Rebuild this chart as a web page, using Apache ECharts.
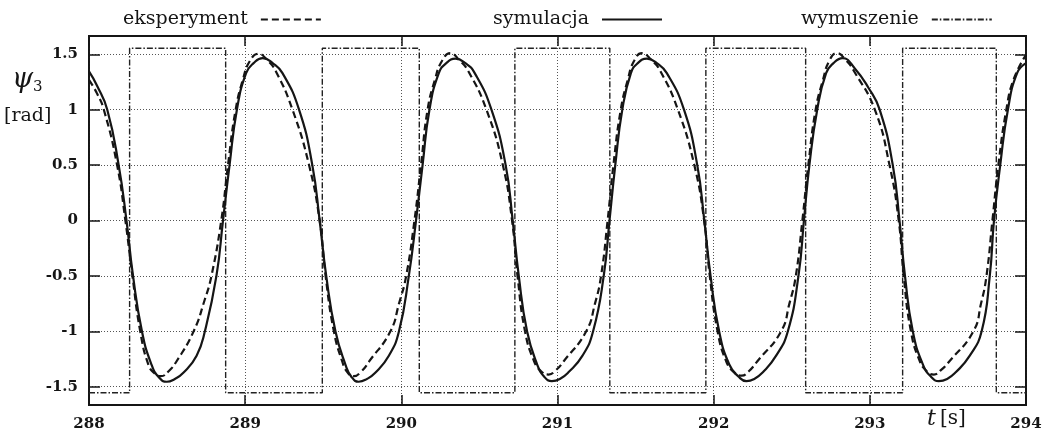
<!DOCTYPE html>
<html>
<head>
<meta charset="utf-8">
<script src="https://cdn.jsdelivr.net/npm/echarts@6/dist/echarts.min.js"></script>
<style>
html,body{margin:0;padding:0;background:#fff;}
#c{width:1059px;height:438px;}
</style>
</head>
<body>
<div id="c"></div>
<script>
// ---- data ----
const seriesNames = ['eksperyment', 'symulacja', 'wymuszenie'];

const simT = [288.000,288.050,288.117,288.190,288.240,288.282,288.339,288.400,288.450,288.498,288.550,288.604,288.689,288.742,288.816,288.858,288.900,288.947,289.006,289.054,289.112,289.176,289.239,289.345,289.430,289.477,289.519,289.578,289.642,289.680,289.727,289.780,289.833,289.920,289.985,290.048,290.094,290.136,290.180,290.240,290.288,290.346,290.410,290.470,290.577,290.668,290.713,290.752,290.805,290.870,290.915,290.964,291.015,291.070,291.160,291.228,291.296,291.333,291.370,291.415,291.470,291.514,291.572,291.636,291.700,291.810,291.895,291.940,291.980,292.035,292.100,292.160,292.210,292.260,292.315,292.400,292.475,292.543,292.578,292.613,292.663,292.720,292.767,292.825,292.905,292.990,293.063,293.147,293.190,293.225,293.275,293.340,293.392,293.442,293.495,293.550,293.640,293.716,293.768,293.795,293.835,293.884,293.943,294.000];
const simV = [1.345,1.22,1.0,0.5,0,-0.5,-1.0,-1.3,-1.42,-1.455,-1.43,-1.375,-1.22,-1.0,-0.5,0,0.5,1.0,1.33,1.42,1.465,1.42,1.33,1.0,0.5,0,-0.5,-1.0,-1.3,-1.41,-1.455,-1.43,-1.375,-1.22,-1.0,-0.5,0,0.5,1.0,1.33,1.42,1.46,1.42,1.33,1.0,0.5,0,-0.5,-1.0,-1.3,-1.41,-1.45,-1.43,-1.37,-1.22,-1.0,-0.5,0,0.5,1.0,1.33,1.42,1.46,1.42,1.33,1.0,0.5,0,-0.5,-1.0,-1.3,-1.41,-1.45,-1.43,-1.37,-1.22,-1.0,-0.5,0,0.5,1.0,1.33,1.42,1.465,1.37,1.2,1.0,0.5,0,-0.5,-1.0,-1.3,-1.41,-1.45,-1.43,-1.37,-1.22,-1.0,-0.5,0,0.5,1.0,1.33,1.42];

const expT = [288.000,288.050,288.095,288.180,288.233,288.278,288.328,288.380,288.420,288.460,288.510,288.561,288.670,288.740,288.784,288.847,288.890,288.939,288.985,289.030,289.085,289.140,289.197,289.303,289.409,289.477,289.515,289.568,289.621,289.655,289.695,289.745,289.795,289.930,289.985,290.031,290.084,290.126,290.168,290.215,290.260,290.314,290.370,290.430,290.545,290.650,290.709,290.744,290.792,290.850,290.895,290.943,290.990,291.040,291.184,291.240,291.279,291.321,291.358,291.405,291.450,291.490,291.541,291.600,291.660,291.771,291.876,291.939,291.975,292.025,292.080,292.130,292.179,292.225,292.280,292.432,292.485,292.526,292.568,292.606,292.653,292.700,292.740,292.789,292.845,292.900,293.032,293.126,293.185,293.217,293.263,293.320,293.365,293.410,293.455,293.510,293.663,293.712,293.747,293.785,293.823,293.874,293.920,294.000];
const expV = [1.27,1.15,1.0,0.5,0,-0.5,-1.0,-1.3,-1.38,-1.405,-1.36,-1.27,-1.0,-0.72,-0.5,0,0.5,1.0,1.27,1.44,1.505,1.45,1.345,1.0,0.5,0,-0.5,-1.0,-1.27,-1.37,-1.405,-1.36,-1.27,-1.0,-0.75,-0.5,0,0.5,1.0,1.27,1.44,1.51,1.45,1.345,1.0,0.5,0,-0.5,-1.0,-1.27,-1.36,-1.39,-1.35,-1.27,-1.0,-0.75,-0.5,0,0.5,1.0,1.27,1.44,1.51,1.45,1.345,1.0,0.5,0,-0.5,-1.0,-1.27,-1.37,-1.40,-1.36,-1.27,-1.0,-0.75,-0.5,0,0.5,1.0,1.27,1.44,1.51,1.45,1.345,1.0,0.5,0,-0.5,-1.0,-1.27,-1.36,-1.39,-1.35,-1.27,-1.0,-0.75,-0.5,0,0.5,1.0,1.27,1.495];

const forceT = [288, 288.26, 288.875, 289.494, 290.115, 290.727, 291.335, 291.95, 292.589, 293.21, 293.81, 294];
const forceV = [-1.555, 1.555, -1.555, 1.555, -1.555, 1.555, -1.555, 1.555, -1.555, 1.555, -1.555, -1.555];

const xMin = 288, xMax = 294, xStep = 1;
const yMin = -1.665, yMax = 1.665;

// ---- build ----
const zip = (a, b) => a.map((v, i) => [v, b[i]]);
const INK = '#151515';
const serif = 'DejaVu Serif';

const chart = echarts.init(document.getElementById('c'), null, {renderer: 'canvas'});

const gridLine = {show: true, lineStyle: {color: '#555', width: 1, type: [1, 2]}};
const legendBase = {
  top: 5, itemWidth: 60, itemHeight: 14, align: 'right', selectedMode: false,
  itemStyle: {opacity: 0, borderWidth: 0},
  textStyle: {fontFamily: serif, fontSize: 19, color: INK, padding: [0, 8, 0, 0]}
};
const edgeAxisLine = {show: true, onZero: false, lineStyle: {color: INK, width: 1.8}};
const edgeTick = {show: true, inside: true, length: 10, lineStyle: {color: INK, width: 1.5}};

chart.setOption({
  animation: false,
  backgroundColor: '#fff',
  grid: {left: 89, right: 33, top: 36, bottom: 33, show: true, borderColor: INK, borderWidth: 1.8, backgroundColor: 'transparent'},
  legend: [
    Object.assign({}, legendBase, {left: 118, data: [seriesNames[0]]}),
    Object.assign({}, legendBase, {left: 488, data: [seriesNames[1]]}),
    Object.assign({}, legendBase, {left: 796, data: [seriesNames[2]]})
  ],
  xAxis: [
    {type: 'value', min: xMin, max: xMax, interval: xStep, position: 'bottom',
     axisLine: edgeAxisLine, axisTick: edgeTick,
     axisLabel: {margin: 12, fontFamily: serif, fontWeight: 'bold', fontSize: 15, color: INK},
     splitLine: gridLine},
    {type: 'value', min: xMin, max: xMax, interval: xStep, position: 'top',
     axisLine: edgeAxisLine, axisTick: edgeTick,
     axisLabel: {show: false}, splitLine: {show: false}}
  ],
  yAxis: [
    {type: 'value', min: yMin, max: yMax, splitNumber: 6, position: 'left',
     axisLine: edgeAxisLine, axisTick: Object.assign({}, edgeTick, {length: 11}),
     axisLabel: {margin: 11, fontFamily: serif, fontWeight: 'bold', fontSize: 15, color: INK,
                 showMinLabel: false, showMaxLabel: false},
     splitLine: gridLine},
    {type: 'value', min: yMin, max: yMax, splitNumber: 6, position: 'right',
     axisLine: edgeAxisLine, axisTick: Object.assign({}, edgeTick, {length: 11}),
     axisLabel: {show: false}, splitLine: {show: false}}
  ],
  graphic: [
    {type: 'text', left: 12, top: 66, style: {text: 'ψ', fontFamily: serif, fontStyle: 'italic', fontSize: 27, fill: INK}},
    {type: 'text', left: 33, top: 80, style: {text: '3', fontFamily: serif, fontSize: 15, fill: INK}},
    {type: 'text', left: 4, top: 107, style: {text: '[rad]', fontFamily: serif, fontSize: 19, fill: INK}},
    {type: 'text', left: 927, top: 408, style: {text: 't', fontFamily: serif, fontStyle: 'italic', fontSize: 22, fill: INK}},
    {type: 'text', left: 940, top: 409, style: {text: '[s]', fontFamily: serif, fontSize: 20, fill: INK}}
  ],
  series: [
    {name: seriesNames[0], type: 'line', data: zip(expT, expV), showSymbol: false, symbol: 'none',
     smooth: 0.5, z: 4,
     lineStyle: {color: INK, width: 2.2, type: [7, 4]}, itemStyle: {color: INK}},
    {name: seriesNames[1], type: 'line', data: zip(simT, simV), showSymbol: false, symbol: 'none',
     smooth: 0.5, z: 5,
     lineStyle: {color: INK, width: 2.2, type: 'solid'}, itemStyle: {color: INK}},
    {name: seriesNames[2], type: 'line', data: zip(forceT, forceV), showSymbol: false, symbol: 'none',
     step: 'end', z: 3,
     lineStyle: {color: '#222', width: 1.4, type: [6, 2, 1.5, 2]}, itemStyle: {color: INK}}
  ]
});
</script>
</body>
</html>
